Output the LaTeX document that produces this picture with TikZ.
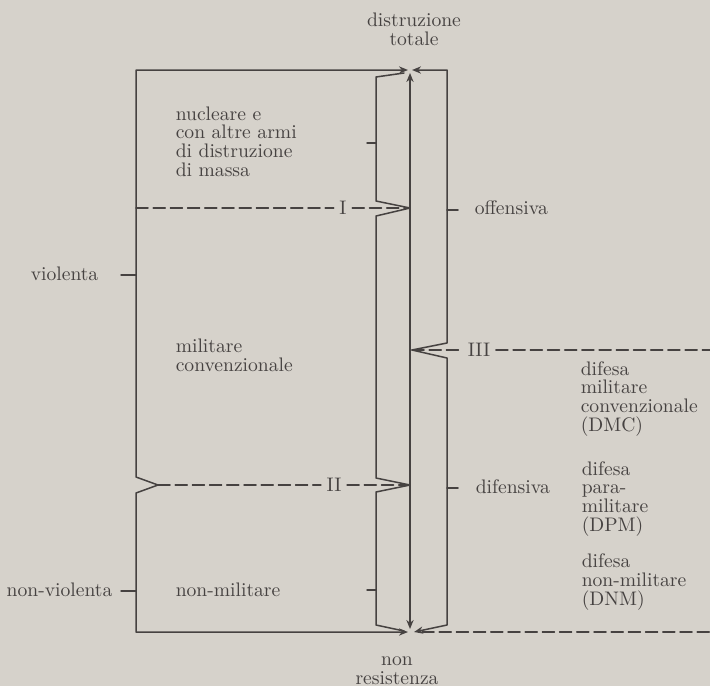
\documentclass[tikz,border=0pt]{standalone}
\usepackage{tikz}
\usetikzlibrary{arrows.meta}
\usepackage{xcolor}
\definecolor{paper}{RGB}{214,210,203}
\definecolor{ink}{RGB}{70,66,65}

\begin{document}
\begin{tikzpicture}[x=0.5pt,y=-0.5pt,>={Stealth[length=4.5pt,width=3.6pt]},
  line width=0.75pt,line cap=round,line join=round,color=ink,
  font=\fontsize{9.8}{9.3}\selectfont,
  lbl/.style={inner sep=0pt,align=left,anchor=base west},
  num/.style={inner sep=2.5pt},
  dashline/.style={dash pattern=on 6pt off 2.6pt}]
\useasboundingbox (0,0) rectangle (710,686);
\fill[paper] (0,0) rectangle (710,686);
\coordinate (top) at (410,70);
\coordinate (bot) at (410,632);
\coordinate (tipI) at (410,208);
\coordinate (tipII) at (410,485);
\coordinate (tipIII) at (412,350);
\coordinate (tipL) at (158,485);
% the three brackets and the axis
\draw[<->] ([xshift=-1pt]top) -- (136,70) -- (136,477) -- (tipL) -- (136,493) -- (136,632) -- ([xshift=-1pt]bot);
\draw (404,73) -- (376,77) -- (376,201) -- (tipI) -- (376,216) -- (376,478) -- (tipII) -- (376,492) -- (376,625) -- (404,631);
\draw[<->] ([xshift=1pt]top) -- (447,70) -- (447,343) -- (tipIII) -- (447,358) -- (447,625) -- ([xshift=2pt]bot);
\draw[<->] (410,73) -- (410,629);
% thresholds
\node[num] (nI) at (343,208) {I};
\node[num] (nII) at (334,485) {II};
\node[num] (nIII) at (479,350) {III};
\draw[dashline] (136,208) -- (nI.west);
\draw[dashline] (nI.east) -- (tipI);
\draw[dashline] (tipL) -- (nII.west);
\draw[dashline] (nII.east) -- (tipII);
\draw[dashline] (tipIII) -- (nIII.west);
\draw[dashline] (nIII.east) -- (710,350);
\draw[dashline] ([xshift=6pt]bot) -- (710,632);
\draw (121,275) -- (136,275);
\draw (121,591) -- (136,591);
\draw (367,143) -- (376,143);
\draw (367,590) -- (376,590);
\draw (447,210) -- (458,210);
\draw (447,488) -- (458,488);
\node[lbl,align=center,anchor=base] (dist) at (414,45) {distruzione\\totale};
\node[lbl,align=center,anchor=base] (nonres) at (397,684) {non\\resistenza};
\node[lbl] (viol) at (30,280) {violenta};
\node[lbl] (nviol) at (6,596) {non-violenta};
\node[lbl] (nucl) at (175,176) {nucleare e\\con altre armi\\di distruzione\\di massa};
\node[lbl] (conv) at (175,371) {militare\\convenzionale};
\node[lbl] (nmil) at (175,596) {non-militare};
\node[lbl] (off) at (474,214) {offensiva};
\node[lbl] (dif) at (475,493) {difensiva};
\node[lbl] (dmc) at (580,431) {difesa\\militare\\convenzionale\\(DMC)};
\node[lbl] (dpm) at (581,531) {difesa\\para-\\militare\\(DPM)};
\node[lbl] (dnm) at (581,605) {difesa\\non-militare\\(DNM)};
\end{tikzpicture}
\end{document}
